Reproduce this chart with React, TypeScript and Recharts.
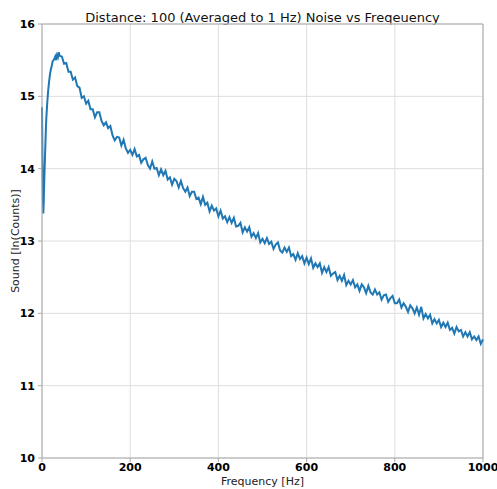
import React from "react";
import { CartesianGrid, Line, LineChart, ReferenceLine, XAxis, YAxis } from "recharts";

// first ~40 Hz, read at 1-2 Hz spacing (sharp dip and rise)
const riseHz = [0, 1, 2, 3, 4, 5, 6, 7, 8, 9, 10, 12, 14, 16, 18, 20, 22, 24, 26, 28, 30, 32, 34, 36, 38, 40];
const riseSound = [
  14.85, 14.2, 13.6, 13.38, 13.55, 13.8, 14.0, 14.2, 14.4, 14.58, 14.72, 14.92, 15.08, 15.2, 15.3, 15.37,
  15.42, 15.48, 15.5, 15.52, 15.55, 15.5, 15.57, 15.54, 15.61, 15.56,
];

// rest of the trace, read every 5 Hz from 45 Hz on
const TAIL_START_HZ = 45;
const TAIL_STEP_HZ = 5;
const tailSound = [
  // 45 - 100
  15.55, 15.45, 15.46, 15.34, 15.34, 15.23, 15.26, 15.14, 15.12, 14.98, 15.0, 14.9,
  // 105 - 200
  14.94, 14.82, 14.82, 14.71, 14.78, 14.78, 14.66, 14.6, 14.64, 14.56, 14.59, 14.46, 14.39, 14.44, 14.43,
  14.32, 14.4, 14.28, 14.22, 14.26,
  // 205 - 300
  14.19, 14.27, 14.17, 14.19, 14.08, 14.13, 14.15, 14.05, 14.0, 14.1, 14.0, 14.01, 13.91, 13.99, 13.91,
  13.97, 13.85, 13.88, 13.78, 13.86,
  // 305 - 400
  13.83, 13.74, 13.83, 13.73, 13.68, 13.74, 13.62, 13.68, 13.68, 13.58, 13.6, 13.51, 13.61, 13.5, 13.53,
  13.41, 13.49, 13.42, 13.45, 13.34,
  // 405 - 500
  13.42, 13.31, 13.34, 13.26, 13.33, 13.25, 13.32, 13.2, 13.21, 13.25, 13.12, 13.19, 13.13, 13.19, 13.06,
  13.11, 13.04, 13.11, 12.98, 13.03,
  // 505 - 600
  12.97, 13.04, 12.96, 12.99, 12.89, 12.95, 12.98, 12.87, 12.84, 12.91, 12.85, 12.91, 12.79, 12.82, 12.74,
  12.83, 12.75, 12.79, 12.69, 12.77,
  // 605 - 700
  12.68, 12.76, 12.63, 12.69, 12.64, 12.69, 12.56, 12.64, 12.57, 12.64, 12.52, 12.55, 12.57, 12.46, 12.52,
  12.45, 12.53, 12.39, 12.45, 12.4,
  // 705 - 800
  12.46, 12.36, 12.4, 12.31, 12.4, 12.36, 12.28, 12.38, 12.29, 12.26, 12.33, 12.26, 12.29, 12.19, 12.25,
  12.26, 12.16, 12.21, 12.24, 12.14,
  // 805 - 900
  12.14, 12.19, 12.08, 12.14, 12.09, 12.02, 12.11, 12.07, 12.0, 12.08, 11.98, 12.09, 11.93, 11.99, 11.93,
  11.98, 11.86, 11.92, 11.86, 11.91,
  // 905 - 1000
  11.81, 11.87, 11.81, 11.87, 11.77, 11.8, 11.72, 11.81, 11.75, 11.77, 11.68, 11.74, 11.68, 11.74, 11.64,
  11.68, 11.63, 11.68, 11.58, 11.64,
];

const xTicks = [0, 200, 400, 600, 800, 1000];
const yTicks = [10, 11, 12, 13, 14, 15, 16];

const data = [
  ...riseHz.map((hz, i) => ({ hz, sound: riseSound[i] })),
  ...tailSound.map((sound, i) => ({ hz: TAIL_START_HZ + i * TAIL_STEP_HZ, sound })),
];

const FONT = "'DejaVu Sans', sans-serif";
const AXIS_GRAY = "#a9a9a9";
const tickStyle = { fontSize: 11, fontWeight: 700, fill: "#000", fontFamily: FONT };

export default function App() {
  return (
    <div style={{ position: "absolute", left: 0, top: 0, width: 497, height: 489, background: "#fff" }}>
      <div
        style={{
          position: "absolute",
          top: 10,
          left: 42,
          width: 441,
          textAlign: "center",
          fontFamily: FONT,
          fontSize: 13,
          color: "#111",
        }}
      >
        Distance: 100 (Averaged to 1 Hz) Noise vs Freqeuency
      </div>
      <LineChart width={497} height={489} data={data} margin={{ top: 24, right: 14, bottom: 0, left: 0 }}>
        <CartesianGrid stroke="#dedede" strokeWidth={1} />
        <XAxis
          dataKey="hz"
          type="number"
          domain={[0, 1000]}
          ticks={xTicks}
          height={31}
          tick={tickStyle}
          tickSize={4}
          tickMargin={1}
          stroke={AXIS_GRAY}
          label={{
            value: "Frequency [Hz]",
            position: "insideBottom",
            offset: 4,
            style: { fontSize: 11, fontFamily: FONT, fill: "#222" },
          }}
        />
        <YAxis
          type="number"
          domain={[10, 16]}
          ticks={yTicks}
          width={42}
          tick={tickStyle}
          tickSize={4}
          tickMargin={3}
          stroke={AXIS_GRAY}
          label={{
            value: "Sound [ln(Counts)]",
            angle: -90,
            position: "insideLeft",
            offset: 15,
            style: { textAnchor: "middle", fontSize: 11, fontFamily: FONT, fill: "#222" },
          }}
        />
        <ReferenceLine y={16} stroke={AXIS_GRAY} />
        <ReferenceLine x={1000} stroke={AXIS_GRAY} />
        <Line
          type="linear"
          dataKey="sound"
          stroke="#1f77b4"
          strokeWidth={2}
          dot={false}
          isAnimationActive={false}
        />
      </LineChart>
    </div>
  );
}
